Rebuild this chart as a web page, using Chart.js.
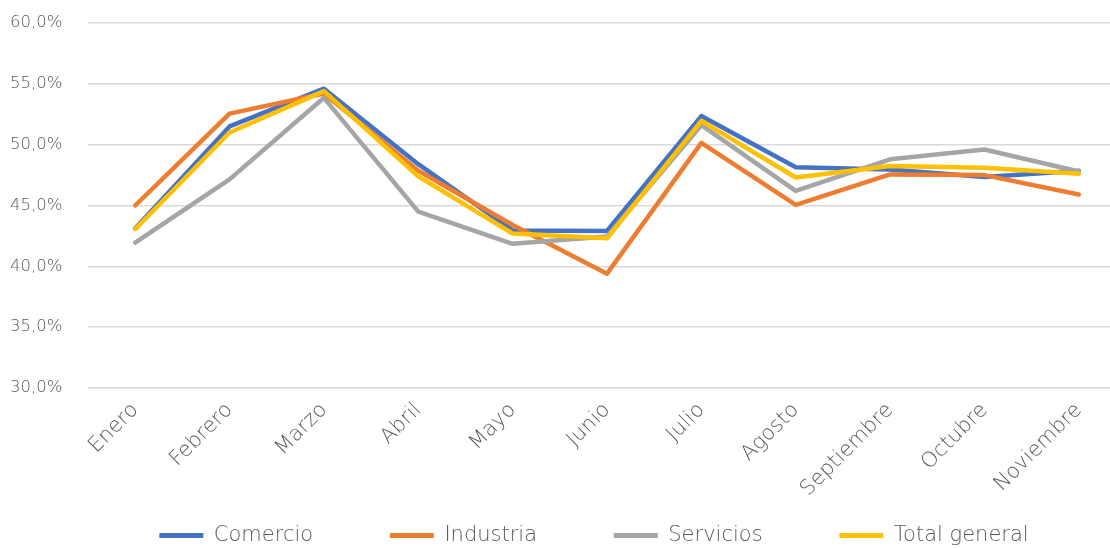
<!DOCTYPE html>
<html>
<head>
<meta charset="utf-8">
<script src="https://cdn.jsdelivr.net/npm/chart.js@4.4.0/dist/chart.umd.min.js"></script>
<style>
    html, body { margin: 0; padding: 0; overflow: hidden; background: #fff; }
    #wrap { width: 1126px; height: 548px; }
</style>
</head>
<body>
<div id="wrap"><canvas id="myChart" width="1126" height="548"></canvas></div>
<script>
const meses = ['Enero', 'Febrero', 'Marzo', 'Abril', 'Mayo', 'Junio', 'Julio', 'Agosto', 'Septiembre', 'Octubre', 'Noviembre'];
const comercio = [43.1, 51.5, 54.6, 48.4, 42.95, 42.9, 52.35, 48.15, 47.95, 47.35, 47.85];
const industria = [45.0, 52.55, 54.2, 47.85, 43.4, 39.4, 50.15, 45.05, 47.55, 47.5, 45.9];
const servicios = [41.95, 47.15, 53.85, 44.5, 41.85, 42.45, 51.6, 46.2, 48.8, 49.6, 47.8];
const totalGeneral = [43.05, 51.0, 54.4, 47.4, 42.7, 42.3, 51.95, 47.3, 48.25, 48.1, 47.6];
const yTicks = [30, 35, 40, 45, 50, 55, 60];

const fontFamily = "'DejaVu Sans', sans-serif";
const textColor = '#595959';

function serie(label, data, color, order) {
    return {
        label: label,
        data: data,
        borderColor: color,
        backgroundColor: color,
        borderWidth: 4.5,
        pointRadius: 0,
        tension: 0,
        borderJoinStyle: 'round',
        borderCapStyle: 'round',
        order: order
    };
}

const ctx = document.getElementById('myChart');

new Chart(ctx, {
    type: 'line',
    data: {
        labels: meses,
        datasets: [
            serie('Comercio', comercio, '#4472C4', 3),
            serie('Industria', industria, '#ED7D31', 2),
            serie('Servicios', servicios, '#A5A5A5', 1),
            serie('Total general', totalGeneral, '#FFC000', 0)
        ]
    },
    options: {
        responsive: false,
        animation: false,
        layout: {
            padding: { left: 62, right: 0, top: 23, bottom: -8 }
        },
        plugins: {
            tooltip: { enabled: false },
            legend: {
                position: 'bottom',
                labels: {
                    sort: (a, b) => a.datasetIndex - b.datasetIndex,
                    // extra spaces after the text to spread the items out like the original
                    generateLabels: chart => {
                        const items = Chart.defaults.plugins.legend.labels.generateLabels(chart);
                        items.forEach(item => {
                            item.lineWidth = 0;
                            if (item.datasetIndex < 3) item.text = item.text + '\u00a0'.repeat(10);
                        });
                        return items;
                    },
                    boxWidth: 44,
                    boxHeight: 5,
                    padding: 10,
                    color: textColor,
                    font: { family: fontFamily, size: 21, weight: 200 }
                }
            }
        },
        scales: {
            y: {
                min: 30,
                max: 60,
                afterFit: scale => { scale.width = 26; },
                afterBuildTicks: scale => { scale.ticks = yTicks.map(v => ({ value: v })); },
                border: { display: false },
                grid: { color: '#d9d9d9', lineWidth: 1.5, drawTicks: false },
                ticks: {
                    mirror: true,
                    padding: -78,
                    color: textColor,
                    font: { family: fontFamily, size: 16.5, weight: 200 },
                    callback: value => value.toFixed(1).replace('.', ',') + '%'
                }
            },
            x: {
                offset: true,
                afterFit: scale => { scale.height = 127; },
                border: { display: false },
                grid: { display: false },
                ticks: {
                    minRotation: 45,
                    maxRotation: 45,
                    padding: 2,
                    color: textColor,
                    font: { family: fontFamily, size: 21, weight: 200 }
                }
            }
        }
    }
});
</script>
</body>
</html>
